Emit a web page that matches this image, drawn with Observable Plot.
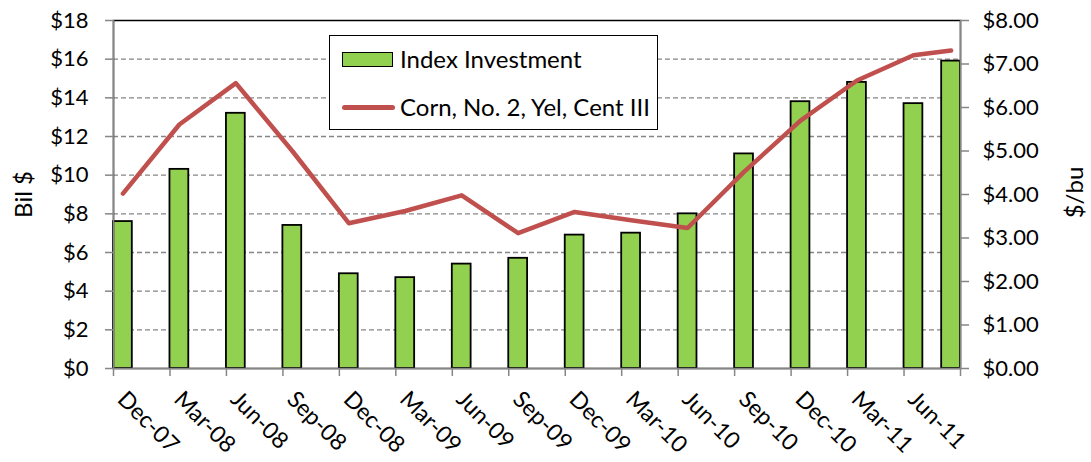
<!DOCTYPE html>
<html>
<head>
<meta charset="utf-8">
<script src="https://cdn.jsdelivr.net/npm/d3@7"></script>
<script src="https://cdn.jsdelivr.net/npm/@observablehq/plot@0.6"></script>
<style>
  body { margin: 0; background: #fff; font-family: Lato, "Open Sans", sans-serif; }
  #wrap { position: relative; width: 1091px; height: 462px; }
  #legend { position: absolute; left: 329px; top: 35px; width: 329px; height: 95px;
            border: 1.5px solid #000; background: #fff; box-sizing: border-box; }
  .lg-text { position: absolute; left: 70px; font-size: 24px; white-space: nowrap; color: #000; line-height: 30px; }
  .sw-bar { position: absolute; left: 12px; width: 51px; height: 15px; background: #92D050;
            border: 1.5px solid #000; box-sizing: border-box; }
  .sw-line { position: absolute; left: 12px; width: 53px; height: 5px; background: #C0504D; border-radius: 3px; }
</style>
</head>
<body>
<div id="wrap">
  <div id="chart"></div>
  <div id="legend"></div>
</div>
<script>
// ---- Data ----
const dates = ["2007-12","2008-03","2008-06","2008-09","2008-12","2009-03","2009-06","2009-09",
               "2009-12","2010-03","2010-06","2010-09","2010-12","2011-03","2011-06","2011-08"];
const investment = [7.6, 10.3, 13.2, 7.4, 4.9, 4.7, 5.4, 5.7, 6.9, 7.0, 8.0, 11.1, 13.8, 14.8, 13.7, 15.9];
const cornPrice  = [4.02, 5.61, 6.56, 5.0, 3.34, 3.62, 3.98, 3.11, 3.6, 3.41, 3.23, 4.52, 5.70, 6.62, 7.2, 7.31];
const tickLabels = ["Dec-07","Mar-08","Jun-08","Sep-08","Dec-08","Mar-09","Jun-09","Sep-09",
                    "Dec-09","Mar-10","Jun-10","Sep-10","Dec-10","Mar-11","Jun-11",""];
const tickDates  = ["2007-12","2008-03","2008-06","2008-09","2008-12","2009-03","2009-06","2009-09",
                    "2009-12","2010-03","2010-06","2010-09","2010-12","2011-03","2011-06","2011-09"];
const leftTicks  = [0, 2, 4, 6, 8, 10, 12, 14, 16, 18];
const rightTicks = [0, 1, 2, 3, 4, 5, 6, 7, 8];
const gridValues = [2, 4, 6, 8, 10, 12, 14, 16];
const seriesNames = ["Index Investment", "Corn, No. 2, Yel, Cent III"];
const axisTitles = ["Bil $", "$/bu"];

// ---- Helpers ----
function monthIndex(s) {
  const [y, m] = s.split("-").map(Number);
  return (y - 2007) * 12 + (m - 1) - 11;
}
const xDomain = [monthIndex(tickDates[0]), monthIndex(tickDates[tickDates.length - 1])];
const yMax = leftTicks[leftTicks.length - 1];
const ratio = yMax / rightTicks[rightTicks.length - 1];

const rows = dates.map((d, i) => ({m: monthIndex(d), inv: investment[i], price: cornPrice[i]}));
const ticks = tickDates.map(monthIndex);
const labels = tickLabels.map((t, i) => ({t, x: ticks[i]})).filter(d => d.t);

const gray = "#868686";

const chart = Plot.plot({
  width: 1091, height: 462,
  marginLeft: 113, marginRight: 131, marginTop: 20, marginBottom: 94,
  x: {domain: xDomain},
  y: {domain: [0, yMax]},
  style: {fontFamily: "Lato, 'Open Sans', sans-serif", fontSize: "22px", color: "#000", background: "#fff", overflow: "visible"},
  marks: [
    Plot.ruleY(gridValues, {stroke: gray, strokeWidth: 1.3, strokeDasharray: "5,3"}),
    Plot.rect(rows, {x1: "m", x2: d => d.m + 1, y1: 0, y2: "inv", fill: "#92D050", stroke: "#000", strokeWidth: 1.8}),
    Plot.line(rows, {x: d => d.m + 0.5, y: d => d.price * ratio, stroke: "#C0504D", strokeWidth: 4.5}),
    Plot.frame({stroke: "#000", strokeWidth: 1.5}),
    Plot.ruleX(xDomain, {stroke: gray, strokeWidth: 1.5}),
    Plot.ruleY([0], {stroke: gray, strokeWidth: 1.5}),
    Plot.axisY({ticks: leftTicks, tickSize: 8, tickPadding: 17, tickFormat: d => "$" + d,
                stroke: gray, fill: "#000", strokeWidth: 1.5, label: null, fontSize: 22}),
    Plot.axisY({anchor: "right", ticks: rightTicks.map(v => v * ratio), tickSize: 8, tickPadding: 14,
                tickFormat: d => "$" + (d / ratio).toFixed(2),
                stroke: gray, fill: "#000", strokeWidth: 1.5, label: null, fontSize: 22}),
    Plot.axisX({ticks: ticks, tickSize: 8, tickFormat: () => "", stroke: gray, strokeWidth: 1.5, label: null}),
    Plot.text(labels, {x: "x", text: "t", frameAnchor: "bottom", rotate: 45, textAnchor: "start",
                       lineAnchor: "middle", dx: 8, dy: 27, fontSize: 23, fill: "#000"}),
    Plot.text([axisTitles[0]], {frameAnchor: "left", textAnchor: "middle", rotate: -90, dx: -89, fontSize: 24, fill: "#000"}),
    Plot.text([axisTitles[1]], {frameAnchor: "right", textAnchor: "middle", rotate: -90, dx: 115, dy: -2, fontSize: 24, fill: "#000"})
  ]
});
document.getElementById("chart").appendChild(chart);

// ---- Legend ----
const lg = document.getElementById("legend");
lg.innerHTML = `
  <div class="sw-bar" style="top:16px"></div>
  <div class="lg-text" style="top:8px">${seriesNames[0]}</div>
  <div class="sw-line" style="top:69px"></div>
  <div class="lg-text" style="top:56px">${seriesNames[1]}</div>`;
</script>
</body>
</html>
